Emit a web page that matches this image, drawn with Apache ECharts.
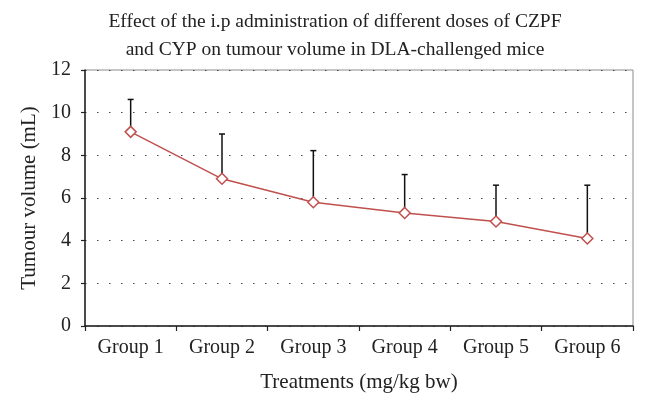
<!DOCTYPE html>
<html>
<head>
<meta charset="utf-8">
<script src="https://cdn.jsdelivr.net/npm/echarts@6/dist/echarts.min.js"></script>
<style>html,body{margin:0;padding:0;background:#fff;}#c{width:646px;height:407px;}</style>
</head>
<body>
<div id="c"></div>
<script>
var categories = ['Group 1', 'Group 2', 'Group 3', 'Group 4', 'Group 5', 'Group 6'];
var meanVolume = [9.1, 6.9, 5.8, 5.3, 4.9, 4.1];
var errorUp = [1.52, 2.1, 2.42, 1.8, 1.7, 2.5];
var yTicks = [0, 2, 4, 6, 8, 10, 12];

var FONT = '"Liberation Serif", "DejaVu Serif", serif';
var chart = echarts.init(document.getElementById('c'), null, {renderer: 'canvas'});

var errData = categories.map(function (c, i) { return [i, meanVolume[i], meanVolume[i] + errorUp[i]]; });

chart.setOption({
  animation: false,
  backgroundColor: '#fff',
  title: {
    text: 'Effect of the i.p administration of different doses of CZPF\nand CYP on tumour volume in DLA-challenged mice',
    left: 330, textAlign: 'center', top: 3,
    textStyle: {fontFamily: FONT, fontSize: 19.5, fontWeight: 'normal', color: '#222', lineHeight: 28}
  },
  grid: {left: 85, right: 13, top: 70, bottom: 81, show: true, borderColor: '#8c8c8c', borderWidth: 1},
  xAxis: {
    type: 'category', data: categories, boundaryGap: true,
    name: 'Treatments (mg/kg bw)', nameLocation: 'middle', nameGap: 46,
    nameTextStyle: {fontFamily: FONT, fontSize: 21, color: '#222'},
    axisLine: {lineStyle: {color: '#222', width: 1.5}},
    axisTick: {show: true, length: 5, lineStyle: {color: '#222', width: 1.2}},
    axisLabel: {fontFamily: FONT, fontSize: 20, color: '#222', margin: 12},
    splitLine: {show: false}
  },
  yAxis: {
    type: 'value', min: 0, max: 12, interval: 2,
    name: 'Tumour volume (mL)', nameLocation: 'middle', nameGap: 44,
    nameTextStyle: {fontFamily: FONT, fontSize: 21, color: '#222'},
    axisLine: {show: true, lineStyle: {color: '#222', width: 1.5}},
    axisTick: {show: true, inside: false, length: 4, lineStyle: {color: '#222', width: 1.2}},
    axisLabel: {fontFamily: FONT, fontSize: 20, color: '#222', margin: 14,
      formatter: function (v) { return yTicks.indexOf(v) >= 0 ? String(v) : ''; }},
    splitLine: {show: true, lineStyle: {color: '#444', width: 1.2, type: [1.5, 10.5]}}
  },
  series: [
    {
      type: 'custom', z: 3,
      renderItem: function (params, api) {
        var x = api.coord([api.value(0), api.value(1)]);
        var top = api.coord([api.value(0), api.value(2)]);
        var cap = 3;
        return {
          type: 'group',
          children: [
            {type: 'line', shape: {x1: x[0], y1: x[1], x2: top[0], y2: top[1]}, style: {stroke: '#111', lineWidth: 1.5}},
            {type: 'line', shape: {x1: top[0] - cap, y1: top[1], x2: top[0] + cap, y2: top[1]}, style: {stroke: '#111', lineWidth: 1.5}}
          ]
        };
      },
      encode: {x: 0, y: [1, 2]},
      data: errData
    },
    {
      type: 'line', z: 4, data: meanVolume,
      symbol: 'diamond', symbolSize: 11,
      lineStyle: {color: '#c0504d', width: 1.5},
      itemStyle: {color: '#fff', borderColor: '#c0504d', borderWidth: 1.5}
    }
  ]
});
</script>
</body>
</html>
